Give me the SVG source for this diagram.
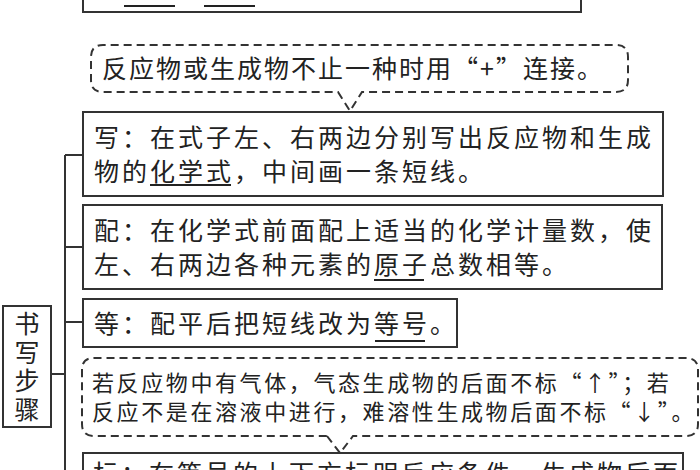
<svg xmlns="http://www.w3.org/2000/svg" width="700" height="470" viewBox="0 0 700 470">
<style>
.box{fill:#fff;stroke:#333;stroke-width:2}
.dash{fill:#fff;stroke:#333;stroke-width:2;stroke-dasharray:8 5}
.t{font-family:"Noto Sans CJK SC","Noto Sans CJK TC",sans-serif;font-size:25px;letter-spacing:3px;fill:#222}
.s{font-size:22px;letter-spacing:2.6px}
.v{writing-mode:vertical-rl;letter-spacing:3.7px}
.ul{stroke:#222;stroke-width:2}
.conn{stroke:#333;stroke-width:2;fill:none}
</style>
<rect width="700" height="470" fill="#fff"/>
<g id="connectors">
<path class="conn" d="M65,155 V470 M65,155 H83 M65,247 H83 M65,322 H83 M51,374 H65"/>
</g>
<g id="top-box">
<path class="conn" d="M83,0 V12 H581 V0"/>
<line class="ul" x1="124" y1="6" x2="175" y2="6"/>
<line class="ul" x1="204" y1="6" x2="255" y2="6"/>
</g>
<g id="note1">
<path class="dash" d="M338,92 L350,111 L362,92 H616 Q628,92 628,80 V57 Q628,45 616,45 H103 Q91,45 91,57 V80 Q91,92 103,92 Z"/>
<text class="t" x="102" y="78" style="letter-spacing:2px">反应物或生成物不止一种时用“+”连接。</text>
</g>
<g id="write">
<rect class="box" x="83" y="112" width="580" height="84"/>
<text class="t" x="94" y="147">写：在式子左、右两边分别写出反应物和生成</text>
<text class="t" x="94" y="181">物的化学式，中间画一条短线。</text>
<line class="ul" x1="150" y1="185" x2="231" y2="185"/>
</g>
<g id="balance">
<rect class="box" x="83" y="205" width="579" height="84"/>
<text class="t" x="94" y="240">配：在化学式前面配上适当的化学计量数，使</text>
<text class="t" x="94" y="274">左、右两边各种元素的原子总数相等。</text>
<line class="ul" x1="374" y1="280" x2="424" y2="280"/>
</g>
<g id="equal">
<rect class="box" x="83" y="299" width="374" height="48"/>
<text class="t" x="94" y="333">等：配平后把短线改为等号。</text>
<line class="ul" x1="375" y1="341" x2="425" y2="341"/>
</g>
<g id="steps">
<rect class="box" x="3" y="306" width="48" height="121"/>
<text class="t v" x="27" y="311">书写步骤</text>
</g>
<g id="note2">
<path class="dash" d="M327,436 L340,453 L353,436 H686 Q698,436 698,424 V370 Q698,358 686,358 H94 Q82,358 82,370 V424 Q82,436 94,436 Z"/>
<text class="t s" x="92" y="391">若反应物中有气体，气态生成物的后面不标“↑”；若</text>
<text class="t s" x="92" y="420">反应不是在溶液中进行，难溶性生成物后面不标“↓”。</text>
</g>
<g id="mark">
<rect class="box" x="83" y="453" width="600" height="40"/>
<text class="t" x="93" y="483">标：在等号的上下方标明反应条件，生成物后面</text>
</g>
</svg>
